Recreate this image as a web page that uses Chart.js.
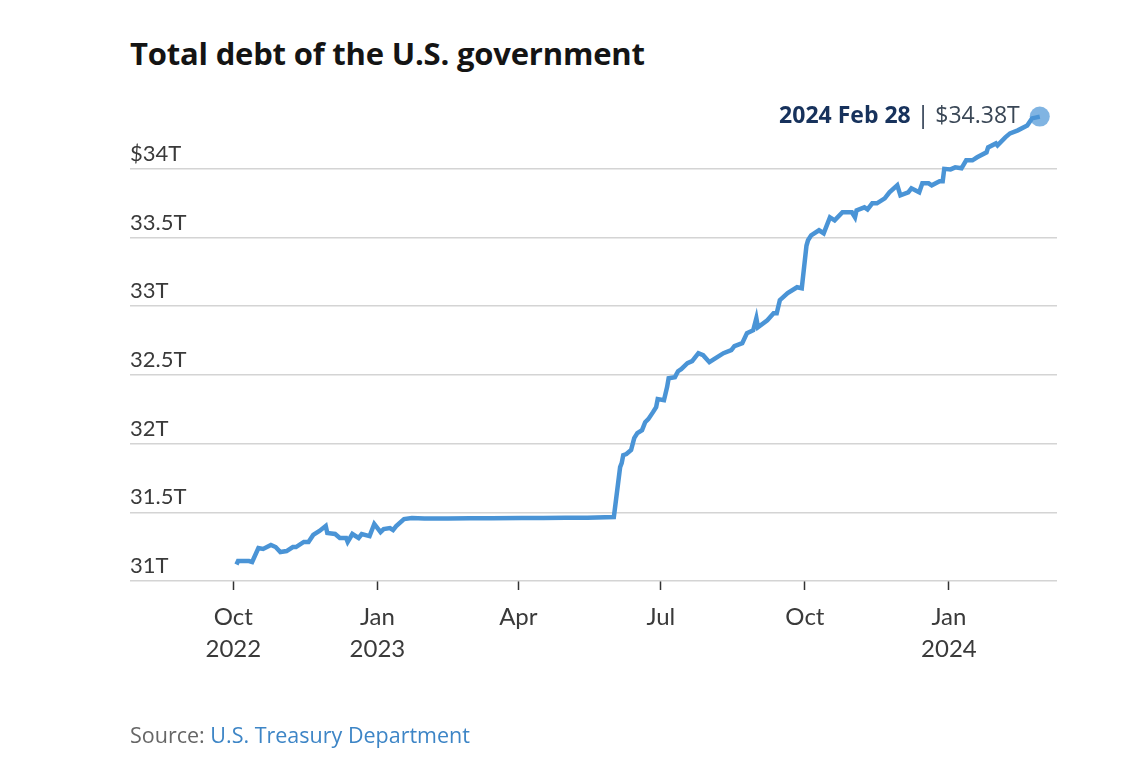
<!DOCTYPE html>
<html>
<head>
<meta charset="utf-8">
<script src="https://cdn.jsdelivr.net/npm/chart.js@4.4.1/dist/chart.umd.min.js"></script>
<style>
  body { margin: 0; background: #fff; font-family: "Lato", sans-serif; }
  #wrap { position: relative; width: 1140px; height: 760px; overflow: hidden; }
  #title { position: absolute; left: 130px; top: 32px; font-family: "Open Sans", sans-serif; font-size: 31px; font-weight: 700; color: #141414; letter-spacing: -0.2px; }
  #source { position: absolute; left: 130px; top: 720px; font-family: "Open Sans", sans-serif; font-size: 21.5px; color: #666; }
  #source span { color: #3d85c6; }
  canvas { position: absolute; left: 0; top: 0; }
</style>
</head>
<body>
<div id="wrap">
  <div id="title">Total debt of the U.S. government</div>
  <canvas id="chartDebt" width="1140" height="760"></canvas>
  <div id="source">Source: <span>U.S. Treasury Department</span></div>
</div>
<script>
// datos (billones de dolares, T)
const dates = [
  "2022-10-03", "2022-10-04", "2022-10-11", "2022-10-13", "2022-10-17", "2022-10-20",
  "2022-10-25", "2022-10-28", "2022-10-31", "2022-11-04", "2022-11-08", "2022-11-10",
  "2022-11-15", "2022-11-18", "2022-11-21", "2022-11-25", "2022-11-29", "2022-11-30",
  "2022-12-05", "2022-12-08", "2022-12-12", "2022-12-13", "2022-12-16", "2022-12-20",
  "2022-12-22", "2022-12-27", "2022-12-30", "2023-01-03", "2023-01-05", "2023-01-09",
  "2023-01-11", "2023-01-13", "2023-01-18", "2023-01-23", "2023-01-31", "2023-02-15",
  "2023-03-01", "2023-03-15", "2023-04-03", "2023-04-17", "2023-05-01", "2023-05-15",
  "2023-06-01", "2023-06-05", "2023-06-06", "2023-06-07", "2023-06-09", "2023-06-12",
  "2023-06-14", "2023-06-16", "2023-06-19", "2023-06-21", "2023-06-23", "2023-06-26",
  "2023-06-28", "2023-06-29", "2023-07-03", "2023-07-05", "2023-07-06", "2023-07-10",
  "2023-07-12", "2023-07-14", "2023-07-18", "2023-07-21", "2023-07-25", "2023-07-28",
  "2023-08-01", "2023-08-04", "2023-08-10", "2023-08-15", "2023-08-17", "2023-08-22",
  "2023-08-25", "2023-08-29", "2023-08-31", "2023-09-01", "2023-09-07", "2023-09-11",
  "2023-09-13", "2023-09-15", "2023-09-20", "2023-09-26", "2023-09-29", "2023-10-02",
  "2023-10-03", "2023-10-05", "2023-10-10", "2023-10-13", "2023-10-17", "2023-10-20",
  "2023-10-25", "2023-10-31", "2023-11-02", "2023-11-03", "2023-11-08", "2023-11-10",
  "2023-11-13", "2023-11-16", "2023-11-21", "2023-11-24", "2023-11-29", "2023-12-01",
  "2023-12-06", "2023-12-08", "2023-12-13", "2023-12-15", "2023-12-19", "2023-12-21",
  "2023-12-26", "2023-12-28", "2023-12-29", "2024-01-02", "2024-01-05", "2024-01-09",
  "2024-01-12", "2024-01-16", "2024-01-19", "2024-01-25", "2024-01-26", "2024-01-31",
  "2024-02-01", "2024-02-06", "2024-02-09", "2024-02-14", "2024-02-20", "2024-02-23",
  "2024-02-28"
];
const debt = [
  31.12, 31.145, 31.145, 31.138, 31.24, 31.233,
  31.262, 31.247, 31.211, 31.218, 31.247, 31.247,
  31.284, 31.284, 31.335, 31.364, 31.40, 31.349,
  31.342, 31.313, 31.313, 31.284, 31.342, 31.313,
  31.342, 31.327, 31.415, 31.356, 31.378, 31.385,
  31.371, 31.40, 31.451, 31.458, 31.455, 31.455,
  31.456, 31.457, 31.458, 31.458, 31.46, 31.461,
  31.465, 31.829, 31.858, 31.916, 31.924, 31.953,
  32.04, 32.076, 32.098, 32.156, 32.178, 32.229,
  32.265, 32.324, 32.316, 32.411, 32.476, 32.484,
  32.527, 32.542, 32.585, 32.60, 32.658, 32.644,
  32.593, 32.615, 32.658, 32.68, 32.709, 32.731,
  32.804, 32.825, 32.913, 32.847, 32.898, 32.949,
  32.949, 33.044, 33.095, 33.138, 33.131, 33.44,
  33.48, 33.516, 33.553, 33.531, 33.647, 33.625,
  33.684, 33.684, 33.647, 33.698, 33.72, 33.705,
  33.749, 33.749, 33.785, 33.829, 33.88, 33.807,
  33.829, 33.858, 33.829, 33.895, 33.895, 33.88,
  33.909, 33.909, 34.0, 33.996, 34.011, 34.004,
  34.062, 34.062, 34.084, 34.12, 34.156, 34.185,
  34.171, 34.229, 34.258, 34.28, 34.316, 34.367,
  34.38
];

const xTickDates = ["2022-10-01", "2023-01-01", "2023-04-01", "2023-07-01", "2023-10-01", "2024-01-01"];
const xTickLabels = [["Oct", "2022"], ["Jan", "2023"], "Apr", "Jul", "Oct", ["Jan", "2024"]];
const yTickValues = [31, 31.5, 32, 32.5, 33, 33.5, 34];
const yTickLabels = ["31T", "31.5T", "32T", "32.5T", "33T", "33.5T", "$34T"];
const lastLabelDate = "2024 Feb 28";
const lastLabelValue = "$34.38T";

// dias desde 1 oct 2022
function dayOf(s) {
  const p = s.split("-").map(Number);
  return (Date.UTC(p[0], p[1] - 1, p[2]) - Date.UTC(2022, 9, 1)) / 86400000;
}

const points = dates.map((d, i) => ({ x: dayOf(d), y: debt[i] }));
const tickDays = xTickDates.map(dayOf);
const last = points.length - 1;

const FONT = "Lato";
const FONT2 = "'Open Sans'";

// ---- ETIQUETA DEL ULTIMO PUNTO ----
const lastLabel = {
  id: "lastLabel",
  afterDatasetsDraw(chart) {
    const pt = chart.getDatasetMeta(0).data[last];
    const ctx = chart.ctx;
    ctx.save();
    ctx.textBaseline = "middle";
    ctx.textAlign = "left";
    const boldFont = "700 23px " + FONT2;
    const normFont = "400 23px " + FONT2;
    ctx.font = normFont;
    const sep = " | ";
    const wSep = ctx.measureText(sep).width;
    const wVal = ctx.measureText(lastLabelValue).width;
    ctx.font = boldFont;
    const wBold = ctx.measureText(lastLabelDate).width;
    const right = pt.x - 20;
    const start = right - wVal - wSep - wBold;
    ctx.fillStyle = "#17325c";
    ctx.fillText(lastLabelDate, start, pt.y);
    ctx.font = normFont;
    ctx.fillStyle = "#1f2f45";
    ctx.fillText(sep, start + wBold, pt.y);
    ctx.fillStyle = "#3a4756";
    ctx.fillText(lastLabelValue, start + wBold + wSep, pt.y);
    ctx.restore();
  }
};

function drawChart() {
  new Chart(document.getElementById("chartDebt"), {
    type: "line",
    data: {
      datasets: [{
        data: points,
        borderColor: "#4a94d6",
        borderWidth: 4.5,
        tension: 0,
        clip: false,
        pointRadius: points.map((p, i) => (i === last ? 10 : 0)),
        pointHoverRadius: 0,
        pointBackgroundColor: "rgba(74,148,214,0.7)",
        pointBorderWidth: 0
      }]
    },
    options: {
      responsive: false,
      animation: false,
      events: [],
      layout: { padding: { left: 130, right: 83, top: 107, bottom: 99 } },
      plugins: { legend: { display: false }, tooltip: { enabled: false } },
      scales: {
        x: {
          type: "linear",
          min: dayOf("2022-07-27"),
          max: dayOf("2024-03-10"),
          afterBuildTicks: (s) => { s.ticks = tickDays.map((v) => ({ value: v })); },
          afterFit: (s) => { s.height = 80; },
          border: { display: false },
          grid: {
            drawOnChartArea: false,
            drawTicks: true,
            tickLength: 9,
            tickColor: "#333",
            tickWidth: 1.5
          },
          ticks: {
            autoSkip: false,
            maxRotation: 0,
            padding: 12,
            color: "#3a3a3a",
            font: { family: FONT, size: 24, lineHeight: 1.3 },
            callback: (v) => {
              const i = tickDays.indexOf(v);
              return i >= 0 ? xTickLabels[i] : "";
            }
          }
        },
        y: {
          min: 31,
          max: 34.45,
          afterBuildTicks: (s) => { s.ticks = yTickValues.map((v) => ({ value: v })); },
          afterFit: (s) => { s.width = 0; },
          border: { display: false },
          grid: { color: "#d4d4d4", lineWidth: 1.5, drawTicks: false },
          ticks: {
            mirror: true,
            padding: 0,
            labelOffset: -15,
            color: "#3a3a3a",
            font: { family: FONT, size: 22 },
            callback: (v) => {
              const i = yTickValues.indexOf(v);
              return i >= 0 ? yTickLabels[i] : "";
            }
          }
        }
      }
    },
    plugins: [lastLabel]
  });
}

// esperar las fuentes antes de dibujar el canvas
Promise.all([
  document.fonts.load("22px Lato"),
  document.fonts.load("24px Lato"),
  document.fonts.load("400 23px 'Open Sans'"),
  document.fonts.load("700 23px 'Open Sans'")
]).then(drawChart, drawChart);
</script>
</body>
</html>
